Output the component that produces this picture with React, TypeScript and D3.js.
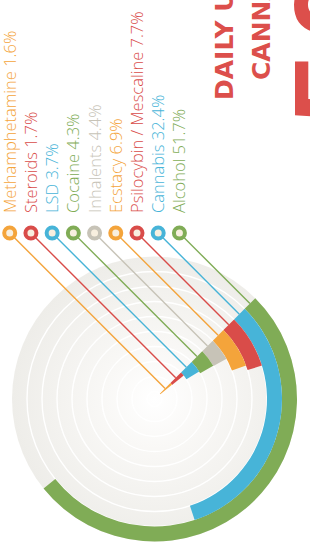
import React from "react";
import * as d3 from "d3";

// outer ring first
const drugs = [
  "Alcohol",
  "Cannabis",
  "Psilocybin / Mescaline",
  "Ecstacy",
  "Inhalents",
  "Cocaine",
  "LSD",
  "Steroids",
  "Methamphetamine",
];
const percents = [51.7, 32.4, 7.7, 6.9, 4.4, 4.3, 3.7, 1.7, 1.6];
const colors = [
  "#80ac56",
  "#47b4d8",
  "#d94c49",
  "#f4a43b",
  "#c7c3b7",
  "#80ac56",
  "#47b4d8",
  "#d94c49",
  "#f4a43b",
];
const titleLines = ["DAILY USERS OF", "CANNABIS"];
const bigNumber = "50";

const W = 310;
const H = 550;
const cx = 154.5;
const cy = 399;
const outerR = 142.5;
const innerR = 7.5;
const startAngle = Math.PI / 4;
const markerY = 233;

const App = () => {
  const ring = d3
    .scaleBand<string>()
    .domain(drugs)
    .range([outerR, innerR])
    .paddingInner(0);
  const bw = ring.bandwidth();
  const angle = d3.scaleLinear().domain([0, 100]).range([0, 2 * Math.PI]);

  const arc = d3.arc<any>();

  // point on the start edge, then up-left (perpendicular to the edge) to the marker row
  const ends = drugs.map((d) => {
    const r = (ring(d) as number) + bw / 2;
    const ex = cx + r * Math.sin(startAngle);
    const ey = cy - r * Math.cos(startAngle);
    const s = ey - markerY;
    return { ex, ey, mx: ex - s, my: markerY };
  });

  const sepRadii = d3.range(1, drugs.length + 1).map((i) => outerR - i * bw);
  const bigSize = 130;

  return (
    <svg
      width={W}
      height={H}
      style={{ position: "absolute", left: 0, top: 0, background: "#fff" }}
    >
      <defs>
        <radialGradient id="disc" cx={cx} cy={cy} r={outerR} gradientUnits="userSpaceOnUse">
          <stop offset="0" stopColor="#ffffff" />
          <stop offset="0.35" stopColor="#f9f8f6" />
          <stop offset="1" stopColor="#eeede9" />
        </radialGradient>
      </defs>

      {/* title, rotated */}
      {titleLines.map((t, i) => (
        <text
          key={t}
          transform={`translate(${233 + i * 37},${100 - i * 20}) rotate(-90)`}
          fontFamily="'DejaVu Sans', sans-serif"
          fontWeight={700}
          fontSize={25}
          fill="#dc4f4b"
        >
          {t}
        </text>
      ))}
      <text
        transform={`translate(${291 + 0.72 * bigSize},${125}) rotate(-90)`}
        fontFamily="'Liberation Sans', Arial, sans-serif"
        fontWeight={700}
        fontSize={bigSize}
        letterSpacing={12}
        fill="#dc4f4b"
      >
        {bigNumber}
      </text>

      {/* background disc */}
      <circle cx={cx} cy={cy} r={outerR} fill="url(#disc)" />
      {sepRadii.map((r) => (
        <circle key={r} cx={cx} cy={cy} r={r} fill="none" stroke="#fff" strokeWidth={1.4} />
      ))}

      {/* bars */}
      <g transform={`translate(${cx},${cy})`}>
        {drugs.map((d, i) => (
          <path
            key={d}
            d={
              arc({
                innerRadius: ring(d) as number,
                outerRadius: (ring(d) as number) + bw,
                startAngle,
                endAngle: startAngle + angle(percents[i]),
              }) as string
            }
            fill={colors[i]}
          />
        ))}
      </g>

      {/* leader lines */}
      {drugs.map((d, i) => (
        <line
          key={d}
          x1={ends[i].mx}
          y1={ends[i].my}
          x2={ends[i].ex}
          y2={ends[i].ey}
          stroke={colors[i]}
          strokeWidth={1.4}
        />
      ))}

      {/* markers + labels */}
      {drugs.map((d, i) => (
        <g key={d}>
          <circle
            cx={ends[i].mx}
            cy={ends[i].my}
            r={5.5}
            fill="#f8efdf"
            stroke={colors[i]}
            strokeWidth={4}
          />
          <text
            transform={`translate(${ends[i].mx + 6},${213}) rotate(-90)`}
            fontFamily="'Open Sans', sans-serif"
            fontWeight={300}
            fontSize={16.5}
            fill={colors[i]}
          >
            {`${d} ${percents[i]}%`}
          </text>
        </g>
      ))}
    </svg>
  );
};

export default App;
